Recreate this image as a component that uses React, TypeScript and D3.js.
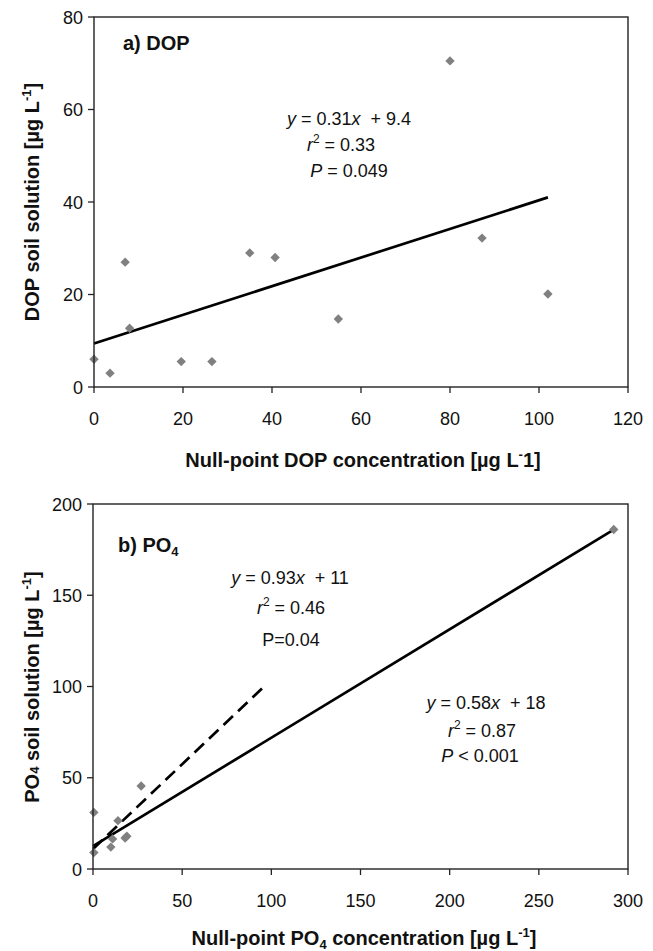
import React from "react";
import * as d3 from "d3";

// ---- Data ----
const dopX = [0, 3.6, 7, 8, 19.6, 26.5, 35, 40.7, 54.9, 80, 87.2, 102];
const dopY = [6, 3, 27, 12.7, 5.5, 5.5, 29, 28, 14.7, 70.5, 32.2, 20.1];
const dopFitX = [0, 102];
const dopFitY = [9.4, 41];
const dopXTicks = [0, 20, 40, 60, 80, 100, 120];
const dopYTicks = [0, 20, 40, 60, 80];

const po4X = [0.5, 0.5, 10, 11, 14, 18, 19, 27, 292];
const po4Y = [31, 9, 12, 16.5, 26.5, 17, 18, 45.5, 186];
const po4SolidX = [0, 292];
const po4SolidY = [12.5, 186];
const po4DashX = [0, 97];
const po4DashY = [11, 101];
const po4XTicks = [0, 50, 100, 150, 200, 250, 300];
const po4YTicks = [0, 50, 100, 150, 200];

const FONT = "'Liberation Sans', Arial, Helvetica, sans-serif";

type PanelProps = {
  left: number; right: number; top: number; bottom: number;
  xMax: number; yMax: number; xTicks: number[]; yTicks: number[];
  px: number[]; py: number[];
  lines: { x: number[]; y: number[]; dash?: string }[];
};

function Panel(p: PanelProps) {
  const x = d3.scaleLinear().domain([0, p.xMax]).range([p.left, p.right]);
  const y = d3.scaleLinear().domain([0, p.yMax]).range([p.bottom, p.top]);
  const line = d3.line<[number, number]>().x((d) => x(d[0])).y((d) => y(d[1]));
  const diamond = d3.symbol().type(d3.symbolDiamond2).size(56)();
  return (
    <g>
      {p.lines.map((l, i) => (
        <path key={i} d={line(l.x.map((v, j) => [v, l.y[j]]) as [number, number][]) || ""}
          fill="none" stroke="#000" strokeWidth={2.7} strokeDasharray={l.dash} />
      ))}
      {p.px.map((v, i) => (
        <path key={i} d={diamond || ""} transform={`translate(${x(v)},${y(p.py[i])})`} fill="#808080" />
      ))}
      <rect x={p.left} y={p.top} width={p.right - p.left} height={p.bottom - p.top}
        fill="none" stroke="#222" strokeWidth={1.4} />
      {p.yTicks.map((t) => (
        <g key={"y" + t}>
          <line x1={p.left - 6} x2={p.left} y1={y(t)} y2={y(t)} stroke="#222" strokeWidth={1.3} />
          <text x={p.left - 11} y={y(t) + 6.5} textAnchor="end" fontSize={18} fontFamily={FONT} fill="#111">{t}</text>
        </g>
      ))}
      {p.xTicks.map((t) => (
        <g key={"x" + t}>
          <line x1={x(t)} x2={x(t)} y1={p.bottom} y2={p.bottom + 6} stroke="#222" strokeWidth={1.3} />
          <text x={x(t)} y={p.bottom + 38} textAnchor="middle" fontSize={18} fontFamily={FONT} fill="#111">{t}</text>
        </g>
      ))}
    </g>
  );
}

export default function App() {
  return (
    <svg width={653} height={951} style={{ position: "absolute", left: 0, top: 0, background: "#fff" }}
      fontFamily={FONT}>
      <rect x={0} y={0} width={653} height={951} fill="#fff" />
      {/* Panel a */}
      <Panel left={94} right={628} top={17} bottom={387} xMax={120} yMax={80}
        xTicks={dopXTicks} yTicks={dopYTicks} px={dopX} py={dopY}
        lines={[{ x: dopFitX, y: dopFitY }]} />
      <text x={123} y={50} fontSize={20} fontWeight="bold" fill="#111">a) DOP</text>
      <g fontSize={18} fill="#111" textAnchor="middle">
        <text x={349} y={125} xmlSpace="preserve"><tspan fontStyle="italic">y</tspan> = 0.31<tspan fontStyle="italic">x</tspan>{"  + 9.4"}</text>
        <text x={341} y={151}><tspan fontStyle="italic">r</tspan><tspan fontSize={12} dy={-8}>2</tspan><tspan dy={8}> = 0.33</tspan></text>
        <text x={349} y={177}><tspan fontStyle="italic">P</tspan> = 0.049</text>
      </g>
      <text transform="translate(39,202) rotate(-90)" textAnchor="middle" fontSize={20} fontWeight="bold" fill="#111">
        DOP soil solution [µg L<tspan fontSize={13} dy={-8}>-1</tspan><tspan dy={8}>]</tspan>
      </text>
      <text x={363} y={467} textAnchor="middle" fontSize={20} fontWeight="bold" fill="#111">
        Null-point DOP concentration [µg L<tspan fontSize={13} dy={-8}>-</tspan><tspan dy={8}>1]</tspan>
      </text>

      {/* Panel b */}
      <Panel left={93} right={628} top={504} bottom={869} xMax={300} yMax={200}
        xTicks={po4XTicks} yTicks={po4YTicks} px={po4X} py={po4Y}
        lines={[{ x: po4SolidX, y: po4SolidY }, { x: po4DashX, y: po4DashY, dash: "13 7" }]} />
      <text x={118} y={552} fontSize={20} fontWeight="bold" fill="#111">
        b) PO<tspan fontSize={13} dy={4}>4</tspan>
      </text>
      <g fontSize={18} fill="#111" textAnchor="middle">
        <text x={290} y={584} xmlSpace="preserve"><tspan fontStyle="italic">y</tspan> = 0.93<tspan fontStyle="italic">x</tspan>{"  + 11"}</text>
        <text x={291} y={614}><tspan fontStyle="italic">r</tspan><tspan fontSize={12} dy={-8}>2</tspan><tspan dy={8}> = 0.46</tspan></text>
        <text x={291} y={646}>P=0.04</text>
        <text x={486} y={709} xmlSpace="preserve"><tspan fontStyle="italic">y</tspan> = 0.58<tspan fontStyle="italic">x</tspan>{"  + 18"}</text>
        <text x={482} y={737}><tspan fontStyle="italic">r</tspan><tspan fontSize={12} dy={-8}>2</tspan><tspan dy={8}> = 0.87</tspan></text>
        <text x={480} y={762}><tspan fontStyle="italic">P</tspan> &lt; 0.001</text>
      </g>
      <text transform="translate(39,687) rotate(-90)" textAnchor="middle" fontSize={20} fontWeight="bold" fill="#111">
        PO<tspan fontSize={13}>4</tspan> soil solution [µg L<tspan fontSize={13} dy={-8}>-1</tspan><tspan dy={8}>]</tspan>
      </text>
      <text x={364} y={945} textAnchor="middle" fontSize={20} fontWeight="bold" fill="#111">
        Null-point PO<tspan fontSize={13} dy={4}>4</tspan><tspan dy={-4}> concentration [µg L</tspan><tspan fontSize={13} dy={-8}>-1</tspan><tspan dy={8}>]</tspan>
      </text>
    </svg>
  );
}
